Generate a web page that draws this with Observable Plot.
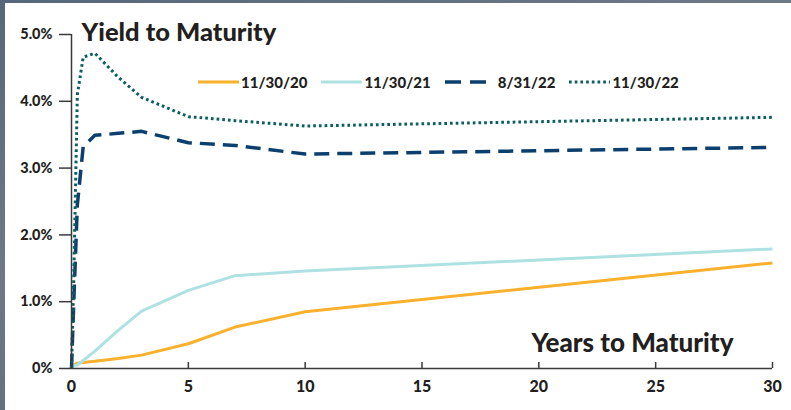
<!DOCTYPE html>
<html>
<head>
<meta charset="utf-8">
<script src="https://cdn.jsdelivr.net/npm/d3@7"></script>
<script src="https://cdn.jsdelivr.net/npm/@observablehq/plot@0.6"></script>
<style>
  html, body { margin: 0; padding: 0; }
  body {
    width: 791px; height: 410px; overflow: hidden;
    background: linear-gradient(160deg, #56677a 0%, #6d7a86 40%, #4e5d6c 100%);
    font-family: Lato, "Open Sans", sans-serif;
  }
  #panel {
    position: absolute; left: 5px; top: 3px; width: 786px; height: 407px;
    background: #ffffff;
  }
  #legend {
    position: absolute; left: 193px; top: 70px;
    display: flex; align-items: center; gap: 14px;
    font: 900 15px Lato, sans-serif; color: #231f20;
  }
  #legend .item { display: flex; align-items: center; }
  #legend svg { display: block; margin-right: 2px; }
  #legend .item.dash svg { margin-right: 12px; }
</style>
</head>
<body>
<div id="panel"><div id="chart"></div><div id="legend"></div></div>
<script>
// Data
const maturities = [0, 0.083, 0.25, 0.5, 1, 2, 3, 5, 7, 10, 30];
const seriesNames = ["11/30/20", "11/30/21", "8/31/22", "11/30/22"];
const yield_11_30_20 = [0, 0.05, 0.08, 0.09, 0.11, 0.15, 0.20, 0.37, 0.62, 0.85, 1.58];
const yield_11_30_21 = [0, 0.05, 0.05, 0.12, 0.26, 0.57, 0.86, 1.17, 1.39, 1.46, 1.79];
const yield_8_31_22  = [0, 0.85, 2.45, 3.32, 3.49, 3.52, 3.55, 3.38, 3.34, 3.21, 3.31];
const yield_11_30_22 = [0, 1.1, 4.1, 4.66, 4.72, 4.36, 4.06, 3.77, 3.71, 3.63, 3.76];
const xTicks = [0, 5, 10, 15, 20, 25, 30];
const yTicks = [0, 1, 2, 3, 4, 5];
const yTickLabels = ["0%", "1.0%", "2.0%", "3.0%", "4.0%", "5.0%"];
const titleText = "Yield to Maturity";
const xLabelText = "Years to Maturity";

// Styles
const styles = [
  {stroke: "#F9B12D", strokeWidth: 3, dash: null},
  {stroke: "#AEE2E2", strokeWidth: 3, dash: null},
  {stroke: "#0B3F6E", strokeWidth: 3.5, dash: "15,8"},
  {stroke: "#0B5E63", strokeWidth: 3, dash: "2.7,3"}
];
const allValues = [yield_11_30_20, yield_11_30_21, yield_8_31_22, yield_11_30_22];

const rows = (vals) => maturities.map((m, i) => ({m, v: vals[i]}));

const W = 786, H = 407;
const lineMarks = allValues.map((vals, i) => Plot.line(rows(vals), {
  x: "m", y: "v",
  stroke: styles[i].stroke,
  strokeWidth: styles[i].strokeWidth,
  strokeDasharray: styles[i].dash,
  strokeLinecap: "butt",
  strokeLinejoin: "round"
}));

const chart = Plot.plot({
  width: W, height: H,
  marginLeft: 66, marginRight: 19, marginTop: 31, marginBottom: 42,
  style: {background: "transparent", fontFamily: "Lato, sans-serif", color: "#231f20"},
  x: {domain: [0, 30]},
  y: {domain: [0, 5]},
  marks: [
    ...lineMarks,
    Plot.ruleY([0], {stroke: "#3a3a3a", strokeWidth: 1.5}),
    Plot.ruleX([0], {stroke: "#3a3a3a", strokeWidth: 1.5}),
    Plot.axisY({
      ticks: yTicks,
      tickFormat: (d) => yTickLabels[yTicks.indexOf(d)],
      tickSize: 12, tickPadding: 7,
      stroke: "#3a3a3a", strokeWidth: 1.5,
      fontSize: 14.5, fontWeight: 900, label: null
    }),
    Plot.axisX({
      ticks: xTicks, tickSize: 0, tickPadding: 12,
      fontSize: 16, fontWeight: 900, label: null
    }),
    Plot.tickX(xTicks.filter(d => d > 0), {x: d => d, stroke: "#3a3a3a", strokeWidth: 1.5, insetTop: 328}),
    Plot.text([titleText], {
      text: d => d, frameAnchor: "top-left", textAnchor: "start", lineAnchor: "bottom",
      dx: 10, dy: 6, fontSize: 25.5, fontWeight: 900, fill: "#231f20"
    }),
    Plot.text([xLabelText], {
      text: d => d, frameAnchor: "bottom-right", textAnchor: "end", lineAnchor: "bottom",
      dx: -39, dy: -17, fontSize: 26, fontWeight: 900, fill: "#231f20"
    })
  ]
});
document.getElementById("chart").appendChild(chart);

// Legend
const legend = document.getElementById("legend");
seriesNames.forEach((name, i) => {
  const s = styles[i];
  const item = document.createElement("div");
  item.className = "item" + (i === 2 ? " dash" : "");
  const sw = i === 2 ? "16,9" : s.dash;
  item.innerHTML = `<svg width="41" height="10"><line x1="0" x2="41" y1="5" y2="5" stroke="${s.stroke}" stroke-width="${s.strokeWidth}" ${sw ? `stroke-dasharray="${sw}"` : ""}/></svg><span>${name}</span>`;
  legend.appendChild(item);
});
</script>
</body>
</html>
